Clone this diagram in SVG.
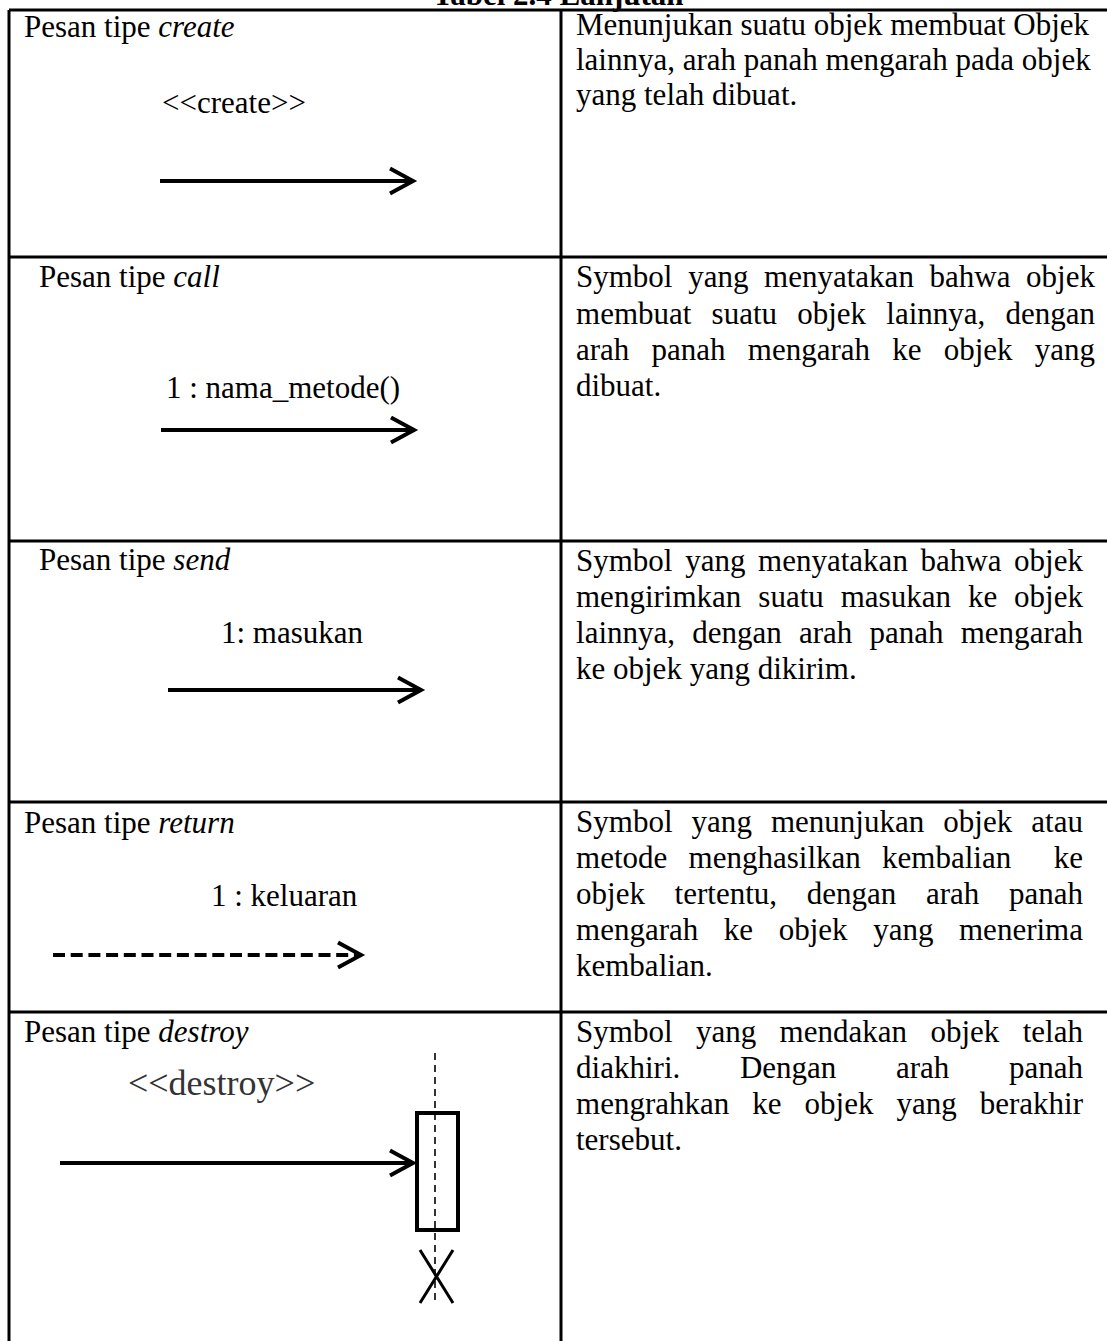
<svg xmlns="http://www.w3.org/2000/svg" width="1107" height="1341" viewBox="0 0 1107 1341">
<style>
.t{font-family:"Liberation Serif","Times New Roman",serif;font-size:31px;fill:#000}
.i{font-style:italic}
.b{font-weight:bold}
.grid{stroke:#000;stroke-width:3;fill:none}
.arr{stroke:#000;stroke-width:4;fill:none}
.dash{stroke-dasharray:12 5.7}
.life{stroke:#333;stroke-width:2;stroke-dasharray:7 5;fill:none}
</style>
<defs>
<marker id="open" markerUnits="userSpaceOnUse" viewBox="-27 -16 30 32" markerWidth="30" markerHeight="32" refX="0" refY="0" orient="auto" overflow="visible">
<path d="M-23,-12.5 L0,0 L-23,12.5" fill="none" stroke="#000" stroke-width="4" stroke-linejoin="miter"/>
</marker>
</defs>
<rect width="1107" height="1341" fill="#fff"/>
<text class="t b" x="558" y="5" text-anchor="middle">Tabel 2.4 Lanjutan</text>
<g id="grid">
<line class="grid" x1="9" y1="10" x2="1107" y2="10"/>
<line class="grid" x1="9" y1="10" x2="9" y2="1341"/>
<line class="grid" x1="561" y1="10" x2="561" y2="1341"/>
<line class="grid" x1="9" y1="257" x2="1107" y2="257"/>
<line class="grid" x1="9" y1="541" x2="1107" y2="541"/>
<line class="grid" x1="9" y1="802" x2="1107" y2="802"/>
<line class="grid" x1="9" y1="1012" x2="1107" y2="1012"/>
</g>
<g id="row-create">
<text class="t" x="24" y="37">Pesan tipe <tspan class="i">create</tspan></text>
<text class="t" x="162" y="113">&lt;&lt;create&gt;&gt;</text>
<text class="t" x="576" y="35">Menunjukan suatu objek membuat Objek</text>
<text class="t" x="576" y="70">lainnya, arah panah mengarah pada objek</text>
<text class="t" x="576" y="105">yang telah dibuat.</text>
</g>
<g id="row-call">
<text class="t" x="39" y="287">Pesan tipe <tspan class="i">call</tspan></text>
<text class="t" x="166" y="398">1 : nama_metode()</text>
<text class="t" x="576" y="287" word-spacing="7.9" textLength="519" lengthAdjust="spacing">Symbol yang menyatakan bahwa objek</text>
<text class="t" x="576" y="323.5" word-spacing="12.4" textLength="519" lengthAdjust="spacing">membuat suatu objek lainnya, dengan</text>
<text class="t" x="576" y="360" word-spacing="14.4" textLength="519" lengthAdjust="spacing">arah panah mengarah ke objek yang</text>
<text class="t" x="576" y="396">dibuat.</text>
</g>
<g id="row-send">
<text class="t" x="39" y="570">Pesan tipe <tspan class="i">send</tspan></text>
<text class="t" x="221" y="643">1: masukan</text>
<text class="t" x="576" y="571" word-spacing="4.9" textLength="507" lengthAdjust="spacing">Symbol yang menyatakan bahwa objek</text>
<text class="t" x="576" y="607" word-spacing="9.2" textLength="507" lengthAdjust="spacing">mengirimkan suatu masukan ke objek</text>
<text class="t" x="576" y="643" word-spacing="9.4" textLength="507" lengthAdjust="spacing">lainnya, dengan arah panah mengarah</text>
<text class="t" x="576" y="679">ke objek yang dikirim.</text>
</g>
<g id="row-return">
<text class="t" x="24" y="833">Pesan tipe <tspan class="i">return</tspan></text>
<text class="t" x="211" y="906">1 : keluaran</text>
<text class="t" x="576" y="832" word-spacing="11.3" textLength="507" lengthAdjust="spacing">Symbol yang menunjukan objek atau</text>
<text class="t" x="576" y="868" word-spacing="13.5" textLength="507" lengthAdjust="spacing">metode menghasilkan kembalian&#160; ke</text>
<text class="t" x="576" y="904" word-spacing="21.9" textLength="507" lengthAdjust="spacing">objek tertentu, dengan arah panah</text>
<text class="t" x="576" y="940" word-spacing="17.8" textLength="507" lengthAdjust="spacing">mengarah ke objek yang menerima</text>
<text class="t" x="576" y="976">kembalian.</text>
</g>
<g id="row-destroy">
<text class="t" x="24" y="1042">Pesan tipe <tspan class="i">destroy</tspan></text>
<text class="t" x="128" y="1095" style="font-size:36px;fill:#333">&lt;&lt;destroy&gt;&gt;</text>
<line class="life" x1="435" y1="1053" x2="435" y2="1303"/>
<rect x="417" y="1113" width="41" height="117" fill="none" stroke="#000" stroke-width="4"/>
<path d="M420,1250 L453,1303 M453,1250 L420,1303" fill="none" stroke="#000" stroke-width="3"/>
<text class="t" x="576" y="1042" word-spacing="15.6" textLength="507" lengthAdjust="spacing">Symbol yang mendakan objek telah</text>
<text class="t" x="576" y="1078" word-spacing="51.8" textLength="507" lengthAdjust="spacing">diakhiri. Dengan arah panah</text>
<text class="t" x="576" y="1114" word-spacing="15.2" textLength="507" lengthAdjust="spacing">mengrahkan ke objek yang berakhir</text>
<text class="t" x="576" y="1150">tersebut.</text>
</g>
<g id="connectors">
<line class="arr" x1="160" y1="181" x2="413" y2="181" marker-end="url(#open)"/>
<line class="arr" x1="161" y1="430" x2="414" y2="430" marker-end="url(#open)"/>
<line class="arr" x1="168" y1="690" x2="421" y2="690" marker-end="url(#open)"/>
<line class="arr dash" x1="53" y1="955" x2="361" y2="955" marker-end="url(#open)"/>
<line class="arr" x1="60" y1="1163" x2="413" y2="1163" stroke-width="3.5" marker-end="url(#open)"/>
</g>
</svg>
